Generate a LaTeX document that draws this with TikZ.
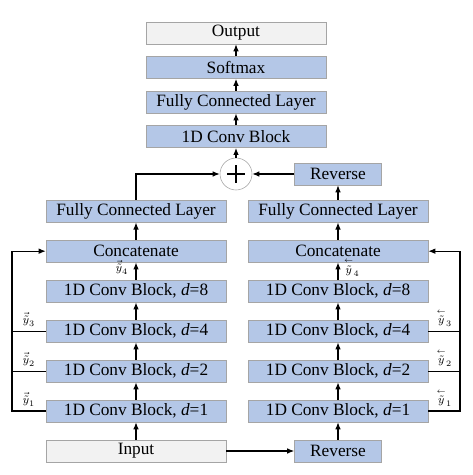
\documentclass[tikz,border=0pt]{standalone}
\usepackage{fontspec}
\setmainfont{Liberation Serif}
\usetikzlibrary{arrows.meta,positioning}
\definecolor{blockblue}{HTML}{B4C7E7}
\definecolor{blockline}{HTML}{A5A5A5}
\definecolor{iofill}{HTML}{F2F2F2}
\newcommand{\fwd}[1]{\vec{\tilde{y}}_{#1}}
\newcommand{\bwd}[1]{\stackrel{\scriptscriptstyle\leftarrow}{\tilde{y}}_{#1}}
\tikzset{
  block/.style={draw=blockline,fill=blockblue,minimum width=4.5cm,minimum height=0.55cm,
    inner sep=0pt,font=\fontsize{12.3}{14}\selectfont},
  iobox/.style={block,fill=iofill},
  revbox/.style={block,minimum width=2.175cm},
  arr/.style={-{Latex[length=5pt,width=4pt]},line width=0.8pt},
  link/.style={line width=0.8pt},
  ylab/.style={font=\fontsize{8}{9}\selectfont,inner sep=1pt},
  sumnode/.style={circle,draw=blockline,fill=white,minimum size=0.8cm,
    path picture={
      \draw[black,line width=0.9pt] ([xshift=-0.22cm]path picture bounding box.center) -- ([xshift=0.22cm]path picture bounding box.center);
      \draw[black,line width=0.9pt] ([yshift=-0.22cm]path picture bounding box.center) -- ([yshift=0.22cm]path picture bounding box.center);}},
}
\begin{document}
\begin{tikzpicture}
  \useasboundingbox (0,0) rectangle (11.8,11.875);
  % top column
  \node[iobox] (output) at (5.9,11.05) {Output};
  \node[block,below=0.3cm of output] (softmax) {Softmax};
  \node[block,below=0.3cm of softmax] (fc) {Fully Connected Layer};
  \node[block,below=0.3cm of fc] (conv) {1D Conv Block};
  \node[sumnode] (plus) at (5.9,7.525) {};
  % left column
  \node[iobox] (input) at (3.4,0.6) {Input};
  \node[block,above=0.435cm of input] (l1) {1D Conv Block, \textit{d}=1};
  \node[block,above=0.435cm of l1] (l2) {1D Conv Block, \textit{d}=2};
  \node[block,above=0.435cm of l2] (l4) {1D Conv Block, \textit{d}=4};
  \node[block,above=0.435cm of l4] (l8) {1D Conv Block, \textit{d}=8};
  \node[block,above=0.435cm of l8] (lcat) {Concatenate};
  \node[block,above=0.435cm of lcat] (lfc) {Fully Connected Layer};
  % right column
  \node[revbox] (rrev) at (8.45,0.6) {Reverse};
  \node[block,above=0.435cm of rrev] (r1) {1D Conv Block, \textit{d}=1};
  \node[block,above=0.435cm of r1] (r2) {1D Conv Block, \textit{d}=2};
  \node[block,above=0.435cm of r2] (r4) {1D Conv Block, \textit{d}=4};
  \node[block,above=0.435cm of r4] (r8) {1D Conv Block, \textit{d}=8};
  \node[block,above=0.435cm of r8] (rcat) {Concatenate};
  \node[block,above=0.435cm of rcat] (rfc) {Fully Connected Layer};
  \node[revbox] (rtop) at (8.45,7.525) {Reverse};
  \coordinate (lbus) at (0.3,0);
  \coordinate (rbus) at (11.5,0);

  \draw[arr] (input) -- (l1);
  \draw[arr] (l1) -- (l2);
  \draw[arr] (l2) -- (l4);
  \draw[arr] (l4) -- (l8);
  \draw[arr] (l8) -- node[ylab,left=0.15cm,pos=0.72] {$\fwd{4}$} (lcat);
  \draw[arr] (lcat) -- (lfc);
  \draw[arr] (lfc.north) |- (plus.west);
  \draw[arr] (input) -- (rrev);
  \draw[arr] (rrev) -- (r1);
  \draw[arr] (r1) -- (r2);
  \draw[arr] (r2) -- (r4);
  \draw[arr] (r4) -- (r8);
  \draw[arr] (r8) -- node[ylab,right=0.1cm,pos=0.72] {$\bwd{4}$} (rcat);
  \draw[arr] (rcat) -- (rfc);
  \draw[arr] (rfc) -- (rtop);
  \draw[arr] (rtop) -- (plus);
  \draw[arr] (plus) -- (conv);
  \draw[arr] (conv) -- (fc);
  \draw[arr] (fc) -- (softmax);
  \draw[arr] (softmax) -- (output);

  % skip connections
  \draw[arr] (l1.west) -- node[ylab,above=2pt] {$\fwd{1}$} (l1.west -| lbus) |- (lcat.west);
  \draw[link] (l2.west) -- node[ylab,above=2pt] {$\fwd{2}$} (l2.west -| lbus);
  \draw[link] (l4.west) -- node[ylab,above=2pt] {$\fwd{3}$} (l4.west -| lbus);
  \draw[arr] (r1.east) -- node[ylab,above=2pt] {$\bwd{1}$} (r1.east -| rbus) |- (rcat.east);
  \draw[link] (r2.east) -- node[ylab,above=2pt] {$\bwd{2}$} (r2.east -| rbus);
  \draw[link] (r4.east) -- node[ylab,above=2pt] {$\bwd{3}$} (r4.east -| rbus);
\end{tikzpicture}
\end{document}
